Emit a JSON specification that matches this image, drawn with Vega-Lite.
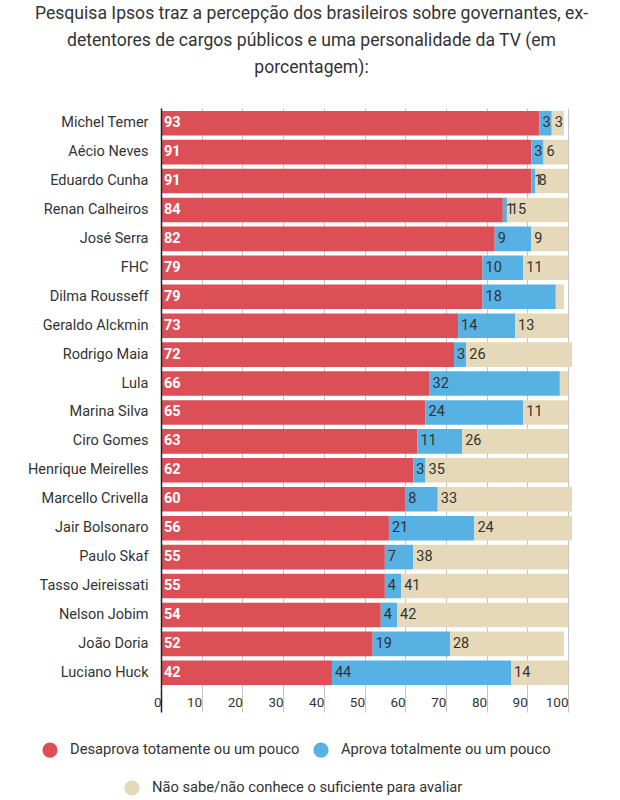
{
  "$schema": "https://vega.github.io/schema/vega-lite/v6.json",
  "width": 407,
  "height": 580,
  "autosize": {"type": "none"},
  "padding": {"left": 161, "top": 108, "right": 52, "bottom": 112},
  "background": "white",
  "title": {
    "text": ["Pesquisa Ipsos traz a percepção dos brasileiros sobre governantes, ex-", "detentores de cargos públicos e uma personalidade da TV (em", "porcentagem):"],
    "anchor": "middle",
    "frame": "group",
    "dx": -53,
    "font": "Roboto",
    "fontSize": 17.6,
    "fontWeight": "normal",
    "color": "#333333",
    "lineHeight": 27,
    "offset": 31
  },
  "data": {
    "values": [
      {"name": "Michel Temer", "cat": "Desaprova totamente ou um pouco", "v": 93, "o": 1},
      {"name": "Michel Temer", "cat": "Aprova totalmente ou um pouco", "v": 3, "o": 2},
      {"name": "Michel Temer", "cat": "Não sabe/não conhece o suficiente para avaliar", "v": 3, "o": 3},
      {"name": "Aécio Neves", "cat": "Desaprova totamente ou um pouco", "v": 91, "o": 1},
      {"name": "Aécio Neves", "cat": "Aprova totalmente ou um pouco", "v": 3, "o": 2},
      {"name": "Aécio Neves", "cat": "Não sabe/não conhece o suficiente para avaliar", "v": 6, "o": 3},
      {"name": "Eduardo Cunha", "cat": "Desaprova totamente ou um pouco", "v": 91, "o": 1},
      {"name": "Eduardo Cunha", "cat": "Aprova totalmente ou um pouco", "v": 1, "o": 2},
      {"name": "Eduardo Cunha", "cat": "Não sabe/não conhece o suficiente para avaliar", "v": 8, "o": 3},
      {"name": "Renan Calheiros", "cat": "Desaprova totamente ou um pouco", "v": 84, "o": 1},
      {"name": "Renan Calheiros", "cat": "Aprova totalmente ou um pouco", "v": 1, "o": 2},
      {"name": "Renan Calheiros", "cat": "Não sabe/não conhece o suficiente para avaliar", "v": 15, "o": 3},
      {"name": "José Serra", "cat": "Desaprova totamente ou um pouco", "v": 82, "o": 1},
      {"name": "José Serra", "cat": "Aprova totalmente ou um pouco", "v": 9, "o": 2},
      {"name": "José Serra", "cat": "Não sabe/não conhece o suficiente para avaliar", "v": 9, "o": 3},
      {"name": "FHC", "cat": "Desaprova totamente ou um pouco", "v": 79, "o": 1},
      {"name": "FHC", "cat": "Aprova totalmente ou um pouco", "v": 10, "o": 2},
      {"name": "FHC", "cat": "Não sabe/não conhece o suficiente para avaliar", "v": 11, "o": 3},
      {"name": "Dilma Rousseff", "cat": "Desaprova totamente ou um pouco", "v": 79, "o": 1},
      {"name": "Dilma Rousseff", "cat": "Aprova totalmente ou um pouco", "v": 18, "o": 2},
      {"name": "Dilma Rousseff", "cat": "Não sabe/não conhece o suficiente para avaliar", "v": 2, "o": 3},
      {"name": "Geraldo Alckmin", "cat": "Desaprova totamente ou um pouco", "v": 73, "o": 1},
      {"name": "Geraldo Alckmin", "cat": "Aprova totalmente ou um pouco", "v": 14, "o": 2},
      {"name": "Geraldo Alckmin", "cat": "Não sabe/não conhece o suficiente para avaliar", "v": 13, "o": 3},
      {"name": "Rodrigo Maia", "cat": "Desaprova totamente ou um pouco", "v": 72, "o": 1},
      {"name": "Rodrigo Maia", "cat": "Aprova totalmente ou um pouco", "v": 3, "o": 2},
      {"name": "Rodrigo Maia", "cat": "Não sabe/não conhece o suficiente para avaliar", "v": 26, "o": 3},
      {"name": "Lula", "cat": "Desaprova totamente ou um pouco", "v": 66, "o": 1},
      {"name": "Lula", "cat": "Aprova totalmente ou um pouco", "v": 32, "o": 2},
      {"name": "Lula", "cat": "Não sabe/não conhece o suficiente para avaliar", "v": 2, "o": 3},
      {"name": "Marina Silva", "cat": "Desaprova totamente ou um pouco", "v": 65, "o": 1},
      {"name": "Marina Silva", "cat": "Aprova totalmente ou um pouco", "v": 24, "o": 2},
      {"name": "Marina Silva", "cat": "Não sabe/não conhece o suficiente para avaliar", "v": 11, "o": 3},
      {"name": "Ciro Gomes", "cat": "Desaprova totamente ou um pouco", "v": 63, "o": 1},
      {"name": "Ciro Gomes", "cat": "Aprova totalmente ou um pouco", "v": 11, "o": 2},
      {"name": "Ciro Gomes", "cat": "Não sabe/não conhece o suficiente para avaliar", "v": 26, "o": 3},
      {"name": "Henrique Meirelles", "cat": "Desaprova totamente ou um pouco", "v": 62, "o": 1},
      {"name": "Henrique Meirelles", "cat": "Aprova totalmente ou um pouco", "v": 3, "o": 2},
      {"name": "Henrique Meirelles", "cat": "Não sabe/não conhece o suficiente para avaliar", "v": 35, "o": 3},
      {"name": "Marcello Crivella", "cat": "Desaprova totamente ou um pouco", "v": 60, "o": 1},
      {"name": "Marcello Crivella", "cat": "Aprova totalmente ou um pouco", "v": 8, "o": 2},
      {"name": "Marcello Crivella", "cat": "Não sabe/não conhece o suficiente para avaliar", "v": 33, "o": 3},
      {"name": "Jair Bolsonaro", "cat": "Desaprova totamente ou um pouco", "v": 56, "o": 1},
      {"name": "Jair Bolsonaro", "cat": "Aprova totalmente ou um pouco", "v": 21, "o": 2},
      {"name": "Jair Bolsonaro", "cat": "Não sabe/não conhece o suficiente para avaliar", "v": 24, "o": 3},
      {"name": "Paulo Skaf", "cat": "Desaprova totamente ou um pouco", "v": 55, "o": 1},
      {"name": "Paulo Skaf", "cat": "Aprova totalmente ou um pouco", "v": 7, "o": 2},
      {"name": "Paulo Skaf", "cat": "Não sabe/não conhece o suficiente para avaliar", "v": 38, "o": 3},
      {"name": "Tasso Jeireissati", "cat": "Desaprova totamente ou um pouco", "v": 55, "o": 1},
      {"name": "Tasso Jeireissati", "cat": "Aprova totalmente ou um pouco", "v": 4, "o": 2},
      {"name": "Tasso Jeireissati", "cat": "Não sabe/não conhece o suficiente para avaliar", "v": 41, "o": 3},
      {"name": "Nelson Jobim", "cat": "Desaprova totamente ou um pouco", "v": 54, "o": 1},
      {"name": "Nelson Jobim", "cat": "Aprova totalmente ou um pouco", "v": 4, "o": 2},
      {"name": "Nelson Jobim", "cat": "Não sabe/não conhece o suficiente para avaliar", "v": 42, "o": 3},
      {"name": "João Doria", "cat": "Desaprova totamente ou um pouco", "v": 52, "o": 1},
      {"name": "João Doria", "cat": "Aprova totalmente ou um pouco", "v": 19, "o": 2},
      {"name": "João Doria", "cat": "Não sabe/não conhece o suficiente para avaliar", "v": 28, "o": 3},
      {"name": "Luciano Huck", "cat": "Desaprova totamente ou um pouco", "v": 42, "o": 1},
      {"name": "Luciano Huck", "cat": "Aprova totalmente ou um pouco", "v": 44, "o": 2},
      {"name": "Luciano Huck", "cat": "Não sabe/não conhece o suficiente para avaliar", "v": 14, "o": 3}
    ]
  },
  "transform": [
    {"stack": "v", "groupby": ["name"], "sort": [{"field": "o", "order": "ascending"}], "as": ["v0", "v1"]}
  ],
  "encoding": {
    "y": {
      "field": "name",
      "type": "nominal",
      "sort": ["Michel Temer", "Aécio Neves", "Eduardo Cunha", "Renan Calheiros", "José Serra", "FHC", "Dilma Rousseff", "Geraldo Alckmin", "Rodrigo Maia", "Lula", "Marina Silva", "Ciro Gomes", "Henrique Meirelles", "Marcello Crivella", "Jair Bolsonaro", "Paulo Skaf", "Tasso Jeireissati", "Nelson Jobim", "João Doria", "Luciano Huck"],
      "scale": {"paddingInner": 0.15, "paddingOuter": 0.1},
      "axis": {
        "title": null,
        "ticks": false,
        "domain": true,
        "domainColor": "#222222",
        "domainWidth": 1.5,
        "labelPadding": 13,
        "labelFont": "Roboto",
        "labelFontSize": 14.5,
        "labelColor": "#333333",
        "labelLimit": 200,
        "zindex": 1
      }
    }
  },
  "layer": [
    {
      "mark": {"type": "bar", "strokeWidth": 0},
      "encoding": {
        "x": {
          "field": "v0",
          "type": "quantitative",
          "scale": {"domain": [0, 100], "nice": false},
          "axis": {
            "title": null,
            "orient": "bottom",
            "values": [0, 10, 20, 30, 40, 50, 60, 70, 80, 90, 100],
            "grid": true,
            "gridColor": "#c4c4c4",
            "gridWidth": 1,
            "domain": false,
            "tickSize": 24,
            "tickColor": {"condition": {"test": "datum.value === 0", "value": "#222222"}, "value": "#c4c4c4"},
            "tickWidth": {"condition": {"test": "datum.value === 0", "value": 1.5}, "value": 1},
            "labelAlign": "right",
            "labelBaseline": "top",
            "labelDx": -7,
            "labelPadding": -17,
            "labelFont": "Roboto",
            "labelFontSize": 13.5,
            "labelColor": "#333333",
            "zindex": 0
          }
        },
        "x2": {"field": "v1"},
        "fill": {
          "field": "cat",
          "type": "nominal",
          "scale": {
            "domain": ["Desaprova totamente ou um pouco", "Aprova totalmente ou um pouco", "Não sabe/não conhece o suficiente para avaliar"],
            "range": ["#dc4f56", "#57b1e3", "#e5d9b9"]
          },
          "legend": {
            "values": ["Desaprova totamente ou um pouco", "Aprova totalmente ou um pouco"],
            "orient": "none",
            "legendX": -119,
            "legendY": 634,
            "direction": "horizontal",
            "title": null
          }
        },
        "stroke": {
          "field": "cat",
          "type": "nominal",
          "scale": {
            "domain": ["Não sabe/não conhece o suficiente para avaliar"],
            "range": ["#e5d9b9"]
          },
          "legend": {
            "values": ["Não sabe/não conhece o suficiente para avaliar"],
            "orient": "none",
            "legendX": -37,
            "legendY": 672,
            "direction": "horizontal",
            "title": null,
            "symbolFillColor": "#e5d9b9"
          }
        }
      }
    },
    {
      "transform": [{"filter": "datum.cat === 'Desaprova totamente ou um pouco'"}],
      "mark": {"type": "text", "align": "left", "baseline": "middle", "dx": 3, "font": "Roboto", "fontSize": 14.5, "fontWeight": "bold", "color": "#ffffff"},
      "encoding": {
        "x": {"field": "v0", "type": "quantitative"},
        "text": {"field": "v", "type": "quantitative"}
      }
    },
    {
      "transform": [{"filter": "datum.cat !== 'Desaprova totamente ou um pouco' && !(datum.cat === 'Não sabe/não conhece o suficiente para avaliar' && datum.v <= 2)"}],
      "mark": {"type": "text", "align": "left", "baseline": "middle", "dx": 3, "font": "Roboto", "fontSize": 14.5, "color": "#333333"},
      "encoding": {
        "x": {"field": "v0", "type": "quantitative"},
        "text": {"field": "v", "type": "quantitative"}
      }
    }
  ],
  "config": {
    "view": {"stroke": null},
    "legend": {
      "symbolType": "circle",
      "symbolSize": 230,
      "symbolStrokeWidth": 0,
      "labelFont": "Roboto",
      "labelFontSize": 14.7,
      "labelColor": "#333333",
      "labelOffset": 12,
      "columnPadding": 13,
      "labelLimit": 400,
      "padding": 0
    }
  }
}
